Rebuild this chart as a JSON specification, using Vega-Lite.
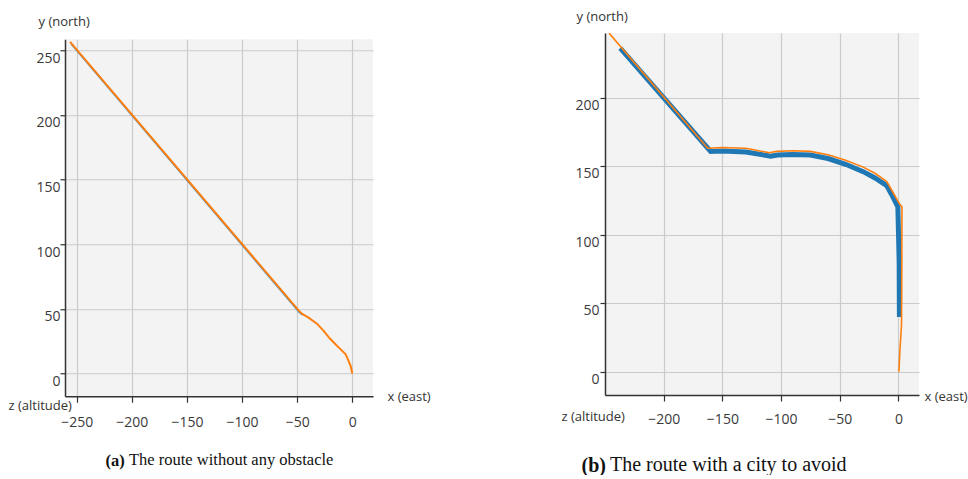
{
  "$schema": "https://vega.github.io/schema/vega-lite/v6.json",
  "padding": {"left": 8, "top": 3, "right": 0, "bottom": 0},
  "background": "white",
  "spacing": 130,
  "center": true,
  "config": {
    "view": {"fill": "#f3f3f3", "stroke": null},
    "axis": {
      "labelFont": "Open Sans", "labelFontSize": 14, "labelColor": "#3a3a3a",
      "titleFont": "Open Sans", "titleFontSize": 13, "titleFontWeight": "normal", "titleColor": "#333333",
      "domainColor": "#333333", "domainWidth": 1.5, "tickColor": "#333333", "tickWidth": 1.2,
      "gridColor": "#cbcbcb", "gridWidth": 1.2, "labelFlush": false, "labelOverlap": false
    }
  },
  "datasets": {
    "a": [
      {"s": "blue", "i": 1, "x": -255, "y": 254.8},
      {"s": "blue", "i": 2, "x": -48, "y": 47.3},
      {"s": "blue", "i": 3, "x": -45, "y": 45.2},
      {"s": "orange", "i": 1, "x": -256, "y": 256.4},
      {"s": "orange", "i": 2, "x": -48.5, "y": 48.7},
      {"s": "orange", "i": 3, "x": -45.5, "y": 46.1},
      {"s": "orange", "i": 4, "x": -40, "y": 43.5},
      {"s": "orange", "i": 5, "x": -31.8, "y": 38.4},
      {"s": "orange", "i": 6, "x": -26, "y": 33},
      {"s": "orange", "i": 7, "x": -20.3, "y": 27.1},
      {"s": "orange", "i": 8, "x": -15, "y": 22.5},
      {"s": "orange", "i": 9, "x": -11.2, "y": 19.3},
      {"s": "orange", "i": 10, "x": -6, "y": 15},
      {"s": "orange", "i": 11, "x": -3.6, "y": 10.3},
      {"s": "orange", "i": 12, "x": -1.5, "y": 6},
      {"s": "orange", "i": 13, "x": -0.6, "y": 2.6},
      {"s": "orange", "i": 14, "x": 0, "y": 0}
    ],
    "b": [
      {"s": "blue", "i": 1, "x": -237, "y": 236.5},
      {"s": "blue", "i": 2, "x": -160, "y": 161},
      {"s": "blue", "i": 3, "x": -150, "y": 161.3},
      {"s": "blue", "i": 4, "x": -130, "y": 160.6},
      {"s": "blue", "i": 5, "x": -109, "y": 157.5},
      {"s": "blue", "i": 6, "x": -103, "y": 158.4},
      {"s": "blue", "i": 7, "x": -90, "y": 158.8},
      {"s": "blue", "i": 8, "x": -75, "y": 158.3},
      {"s": "blue", "i": 9, "x": -60, "y": 155.8},
      {"s": "blue", "i": 10, "x": -45, "y": 151.6},
      {"s": "blue", "i": 11, "x": -30, "y": 146.2},
      {"s": "blue", "i": 12, "x": -20, "y": 141.6},
      {"s": "blue", "i": 13, "x": -10, "y": 136},
      {"s": "blue", "i": 14, "x": -5.5, "y": 129},
      {"s": "blue", "i": 15, "x": -0.5, "y": 120.5},
      {"s": "blue", "i": 16, "x": 0.6, "y": 80},
      {"s": "blue", "i": 17, "x": 0.8, "y": 40},
      {"s": "orange", "i": 1, "x": -246.5, "y": 247.4},
      {"s": "orange", "i": 2, "x": -162.5, "y": 163.3},
      {"s": "orange", "i": 3, "x": -150, "y": 163.8},
      {"s": "orange", "i": 4, "x": -130, "y": 163.3},
      {"s": "orange", "i": 5, "x": -110, "y": 160},
      {"s": "orange", "i": 6, "x": -104, "y": 161},
      {"s": "orange", "i": 7, "x": -90, "y": 161.5},
      {"s": "orange", "i": 8, "x": -75, "y": 161},
      {"s": "orange", "i": 9, "x": -60, "y": 158.6},
      {"s": "orange", "i": 10, "x": -45, "y": 154.5},
      {"s": "orange", "i": 11, "x": -30, "y": 149.5},
      {"s": "orange", "i": 12, "x": -20, "y": 145},
      {"s": "orange", "i": 13, "x": -10, "y": 139},
      {"s": "orange", "i": 14, "x": -5, "y": 131.5},
      {"s": "orange", "i": 15, "x": 1, "y": 122.5},
      {"s": "orange", "i": 16, "x": 3, "y": 120.5},
      {"s": "orange", "i": 17, "x": 2.8, "y": 60},
      {"s": "orange", "i": 18, "x": 2.6, "y": 34},
      {"s": "orange", "i": 19, "x": 1.2, "y": 15},
      {"s": "orange", "i": 20, "x": 0.4, "y": 0}
    ]
  },
  "hconcat": [
    {
      "width": 308,
      "height": 357,
      "data": {"name": "a"},
      "title": {"text": "The route without any obstacle", "orient": "bottom", "anchor": "start", "frame": "group", "dx": 64, "offset": -16.5, "font": "Liberation Serif", "fontSize": 16.5, "fontWeight": "normal", "color": "#111111"},
      "layer": [
        {
          "transform": [{"filter": "datum.s === 'blue'"}],
          "mark": {"type": "line", "color": "#1f77b4", "strokeWidth": 1.5, "opacity": 0.8, "clip": true},
          "encoding": {
            "x": {"field": "x", "type": "quantitative", "scale": {"domain": [-260.6, 18.8], "nice": false, "zero": false},
              "axis": {"orient": "bottom", "values": [-250, -200, -150, -100, -50, 0], "title": "x (east)", "titleX": 322, "titleY": 0, "titleAlign": "left", "titleBaseline": "middle", "titleAngle": 0, "tickSize": 6, "labelPadding": 13, "grid": true}},
            "y": {"field": "y", "type": "quantitative", "scale": {"domain": [-17.5, 258.5], "nice": false, "zero": false},
              "axis": {"orient": "left", "values": [0, 50, 100, 150, 200, 250], "title": ["", "y (north)"], "titleLineHeight": 12, "titleAngle": 0, "titleAlign": "left", "titleBaseline": "top", "titleX": -27, "titleY": -35.5, "tickSize": 5, "labelPadding": 0, "labelOffset": 8, "grid": true}},
            "order": {"field": "i", "type": "quantitative"}
          }
        },
        {
          "transform": [{"filter": "datum.s === 'orange'"}],
          "mark": {"type": "line", "color": "#ff7f0e", "strokeWidth": 2, "clip": true},
          "encoding": {
            "x": {"field": "x", "type": "quantitative", "scale": {"domain": [-260.6, 18.8], "nice": false, "zero": false},
              "axis": {"orient": "bottom", "labels": false, "ticks": false, "domain": false, "grid": false, "title": "z (altitude)", "titleX": -57, "titleY": 9, "titleAlign": "left", "titleBaseline": "middle", "titleAngle": 0}},
            "y": {"field": "y", "type": "quantitative", "scale": {"domain": [-17.5, 258.5], "nice": false, "zero": false},
              "axis": {"orient": "left", "labels": false, "ticks": false, "domain": false, "grid": false, "title": "(a)", "titleFont": "Liberation Serif", "titleFontSize": 16.5, "titleFontWeight": "bold", "titleColor": "#111111", "titleAngle": 0, "titleAlign": "left", "titleBaseline": "middle", "titleX": 40, "titleY": 421}},
            "order": {"field": "i", "type": "quantitative"}
          }
        }
      ],
      "resolve": {"axis": {"x": "independent", "y": "independent"}}
    },
    {
      "width": 314,
      "height": 362,
      "data": {"name": "b"},
      "title": {"text": "The route with a city to avoid", "orient": "bottom", "anchor": "start", "frame": "group", "dx": 5, "offset": -20, "font": "Liberation Serif", "fontSize": 20, "fontWeight": "normal", "color": "#111111"},
      "layer": [
        {
          "transform": [{"filter": "datum.s === 'blue'"}],
          "mark": {"type": "line", "color": "#1f77b4", "strokeWidth": 5, "clip": true},
          "encoding": {
            "x": {"field": "x", "type": "quantitative", "scale": {"domain": [-250, 17.5], "nice": false, "zero": false},
              "axis": {"orient": "bottom", "values": [-200, -150, -100, -50, 0], "title": "x (east)", "titleX": 319, "titleY": 1, "titleAlign": "left", "titleBaseline": "middle", "titleAngle": 0, "tickSize": 6, "labelPadding": 11, "grid": true}},
            "y": {"field": "y", "type": "quantitative", "scale": {"domain": [-17, 247.5], "nice": false, "zero": false},
              "axis": {"orient": "left", "values": [0, 50, 100, 150, 200], "title": "y (north)", "titleAngle": 0, "titleAlign": "left", "titleBaseline": "middle", "titleX": -29, "titleY": -17, "tickSize": 5, "labelPadding": 1, "labelOffset": 7.5, "grid": true}},
            "order": {"field": "i", "type": "quantitative"}
          }
        },
        {
          "transform": [{"filter": "datum.s === 'orange'"}],
          "mark": {"type": "line", "color": "#ff7f0e", "strokeWidth": 1.6, "clip": true},
          "encoding": {
            "x": {"field": "x", "type": "quantitative", "scale": {"domain": [-250, 17.5], "nice": false, "zero": false},
              "axis": {"orient": "bottom", "labels": false, "ticks": false, "domain": false, "grid": false, "title": "z (altitude)", "titleX": -44, "titleY": 21, "titleAlign": "left", "titleBaseline": "middle", "titleAngle": 0}},
            "y": {"field": "y", "type": "quantitative", "scale": {"domain": [-17, 247.5], "nice": false, "zero": false},
              "axis": {"orient": "left", "labels": false, "ticks": false, "domain": false, "grid": false, "title": "(b)", "titleFont": "Liberation Serif", "titleFontSize": 20, "titleFontWeight": "bold", "titleColor": "#111111", "titleAngle": 0, "titleAlign": "left", "titleBaseline": "middle", "titleX": -24, "titleY": 432}},
            "order": {"field": "i", "type": "quantitative"}
          }
        }
      ],
      "resolve": {"axis": {"x": "independent", "y": "independent"}}
    }
  ]
}
